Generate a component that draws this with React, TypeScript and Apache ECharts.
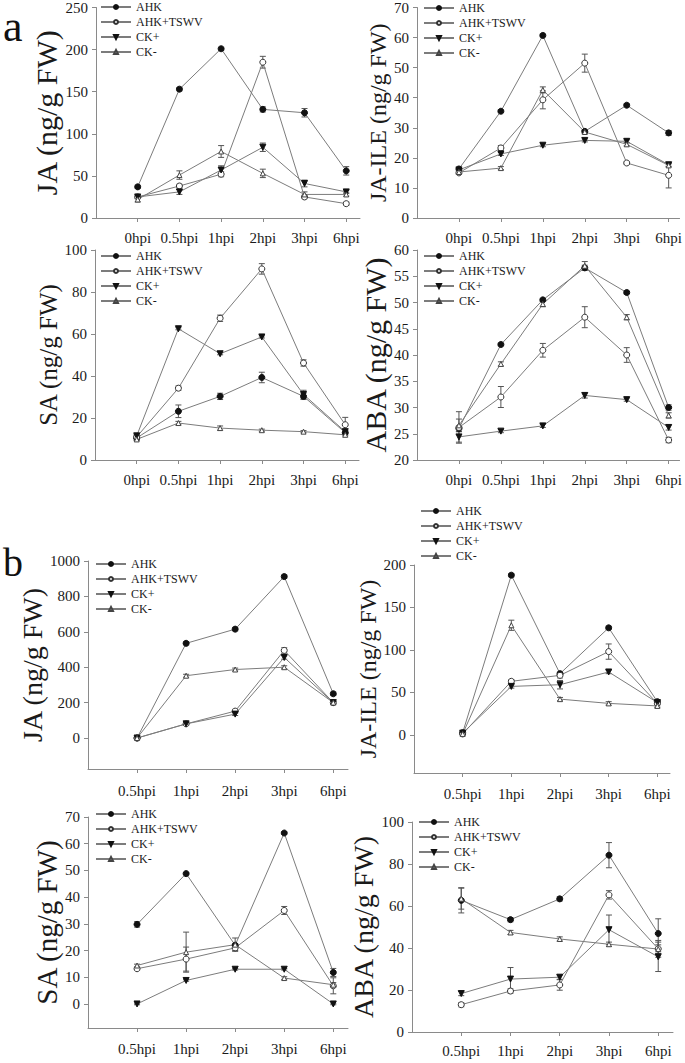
import React, { useEffect, useRef } from "react";
import * as echarts from "echarts";

const FONT = "Liberation Serif";

const catsA = ["0hpi", "0.5hpi", "1hpi", "2hpi", "3hpi", "6hpi"];
const catsB = ["0.5hpi", "1hpi", "2hpi", "3hpi", "6hpi"];
const seriesNames = ["AHK", "AHK+TSWV", "CK+", "CK-"];

// panel a — JA
const aJA_AHK = [37, 153, 201, 129, 125, 56];
const aJA_TSWV = [25, 38, 52, 185, 25, 17];
const aJA_CKp = [25, 31, 57, 84, 41, 31];
const aJA_CKm = [22, 51, 79, 53, 28, 28];
const aJA_errAHK = [2, 2, 2, 3, 5, 5];
const aJA_errTSWV = [2, 2, 3, 7, 2, 2];
const aJA_errCKp = [2, 3, 5, 5, 4, 2];
const aJA_errCKm = [3, 5, 7, 5, 3, 2];

// panel a — JA-ILE
const aJI_AHK = [16.3, 35.5, 60.7, 28.8, 37.5, 28.3];
const aJI_TSWV = [15, 23.3, 39.3, 51.5, 18.3, 14.2];
const aJI_CKp = [16, 21.3, 24.2, 25.8, 25.5, 17.7];
const aJI_CKm = [15.3, 16.6, 42.6, 28.6, 24.5, 17.5];
const aJI_errAHK = [0.5, 0.5, 0.5, 0.5, 0.5, 0.8];
const aJI_errTSWV = [0.5, 0.8, 3, 3, 0.5, 4.2];
const aJI_errCKp = [0.5, 0.5, 0.5, 0.5, 0.5, 0.5];
const aJI_errCKm = [0.5, 0.5, 1, 0.5, 0.5, 0.5];

// panel a — SA
const aSA_AHK = [10.5, 23.2, 30.3, 39.3, 30.3, 13];
const aSA_TSWV = [11, 34.2, 67.5, 91, 46.2, 16.8];
const aSA_CKp = [11.5, 62.5, 50.6, 58.6, 31.2, 13.5];
const aSA_CKm = [9.8, 17.6, 15.2, 14.2, 13.5, 12];
const aSA_errAHK = [1, 3, 1.5, 2.5, 1.5, 1];
const aSA_errTSWV = [1, 1, 1.5, 2.5, 1.5, 3.5];
const aSA_errCKp = [0.5, 0.5, 0.5, 0.5, 2, 0.5];
const aSA_errCKm = [0.5, 0.8, 1, 0.5, 0.5, 0.5];

// panel a — ABA
const aABA_AHK = [26, 42, 50.5, 56.6, 51.9, 30];
const aABA_TSWV = [26.2, 32, 40.9, 47.2, 40, 23.8];
const aABA_CKp = [24.4, 25.5, 26.5, 32.3, 31.5, 26.2];
const aABA_CKm = [26.6, 38.3, 49.7, 57, 47.2, 28.5];
const aABA_errAHK = [0.5, 0.3, 0.3, 0.5, 0.3, 0.5];
const aABA_errTSWV = [3, 2, 1.3, 2, 1.4, 0.5];
const aABA_errCKp = [1, 0.3, 0.3, 0.5, 0.3, 0.5];
const aABA_errCKm = [1.2, 0.4, 0.5, 0.8, 0.5, 0.5];

// panel b — JA
const bJA_AHK = [0, 535, 615, 912, 250];
const bJA_TSWV = [0, 80, 152, 495, 200];
const bJA_CKp = [0, 80, 135, 455, 200];
const bJA_CKm = [0, 352, 387, 400, 200];
const bJA_errAHK = [5, 10, 10, 10, 10];
const bJA_errTSWV = [5, 5, 10, 15, 8];
const bJA_errCKp = [5, 5, 8, 10, 8];
const bJA_errCKm = [5, 8, 8, 8, 8];

// panel b — JA-ILE
const bJI_AHK = [2.5, 188, 72, 126, 39];
const bJI_TSWV = [1, 63, 70, 98, 37];
const bJI_CKp = [2, 57, 59, 74, 38];
const bJI_CKm = [1, 129, 42, 37, 34];
const bJI_errAHK = [1, 2, 2, 2, 2];
const bJI_errTSWV = [1, 2, 3, 9, 3];
const bJI_errCKp = [1, 2, 5, 2, 2];
const bJI_errCKm = [1, 6, 2, 2, 2];

// panel b — SA
const bSA_AHK = [29.8, 48.8, 22, 64, 11.8];
const bSA_TSWV = [13.2, 16.8, 21, 35, 6.8];
const bSA_CKp = [0, 8.8, 13, 13, 0];
const bSA_CKm = [14.4, 19.4, 22.2, 9.7, 7.2];
const bSA_errAHK = [1, 0.5, 0.5, 0.5, 1.5];
const bSA_errTSWV = [0.5, 4.5, 1, 1.5, 3];
const bSA_errCKp = [0.3, 0.3, 0.3, 0.3, 0.3];
const bSA_errCKm = [0.5, 7.5, 2.5, 0.5, 0.8];

// panel b — ABA
const bABA_AHK = [62.7, 53.5, 63.4, 84.2, 46.9];
const bABA_TSWV = [13, 19.5, 22.4, 65.3, 39.6];
const bABA_CKp = [18.3, 25.2, 26.1, 48.7, 35.8];
const bABA_CKm = [63.5, 47.4, 44.3, 41.8, 39.5];
const bABA_errAHK = [6, 1, 1, 6, 7];
const bABA_errTSWV = [1, 1, 2.5, 2, 4];
const bABA_errCKp = [1, 5.5, 1, 7, 7];
const bABA_errCKm = [5, 1, 1, 1, 2];

// y-axis tick values
const ticksA_JA = [0, 50, 100, 150, 200, 250];
const ticksA_JI = [0, 10, 20, 30, 40, 50, 60, 70];
const ticksA_SA = [0, 20, 40, 60, 80, 100];
const ticksA_ABA = [20, 25, 30, 35, 40, 45, 50, 55, 60];
const ticksB_JA = [0, 200, 400, 600, 800, 1000];
const ticksB_JI = [0, 50, 100, 150, 200];
const ticksB_SA = [0, 10, 20, 30, 40, 50, 60, 70];
const ticksB_ABA = [0, 20, 40, 60, 80, 100];

const panels = [
  { name: "JA (ng/g FW)", cats: catsA, vals: [aJA_AHK, aJA_TSWV, aJA_CKp, aJA_CKm], errs: [aJA_errAHK, aJA_errTSWV, aJA_errCKp, aJA_errCKm], ticks: ticksA_JA, yMin: 0 },
  { name: "JA-ILE (ng/g FW)", cats: catsA, vals: [aJI_AHK, aJI_TSWV, aJI_CKp, aJI_CKm], errs: [aJI_errAHK, aJI_errTSWV, aJI_errCKp, aJI_errCKm], ticks: ticksA_JI, yMin: 0 },
  { name: "SA (ng/g FW)", cats: catsA, vals: [aSA_AHK, aSA_TSWV, aSA_CKp, aSA_CKm], errs: [aSA_errAHK, aSA_errTSWV, aSA_errCKp, aSA_errCKm], ticks: ticksA_SA, yMin: 0 },
  { name: "ABA (ng/g FW)", cats: catsA, vals: [aABA_AHK, aABA_TSWV, aABA_CKp, aABA_CKm], errs: [aABA_errAHK, aABA_errTSWV, aABA_errCKp, aABA_errCKm], ticks: ticksA_ABA, yMin: 20 },
  { name: "JA (ng/g FW)", cats: catsB, vals: [bJA_AHK, bJA_TSWV, bJA_CKp, bJA_CKm], errs: [bJA_errAHK, bJA_errTSWV, bJA_errCKp, bJA_errCKm], ticks: ticksB_JA, yMin: -175 },
  { name: "JA-ILE (ng/g FW)", cats: catsB, vals: [bJI_AHK, bJI_TSWV, bJI_CKp, bJI_CKm], errs: [bJI_errAHK, bJI_errTSWV, bJI_errCKp, bJI_errCKm], ticks: ticksB_JI, yMin: -45 },
  { name: "SA (ng/g FW)", cats: catsB, vals: [bSA_AHK, bSA_TSWV, bSA_CKp, bSA_CKm], errs: [bSA_errAHK, bSA_errTSWV, bSA_errCKp, bSA_errCKm], ticks: ticksB_SA, yMin: -9 },
  { name: "ABA (ng/g FW)", cats: catsB, vals: [bABA_AHK, bABA_TSWV, bABA_CKp, bABA_CKm], errs: [bABA_errAHK, bABA_errTSWV, bABA_errCKp, bABA_errCKm], ticks: ticksB_ABA, yMin: 0 },
];

// layout (pixels)
const layout = [
  { left: 96, top: 7, width: 264, height: 211, xMax: 6.33, nameGap: 34, nameSize: 30, lgLeft: 100, lgTop: 1, xMargin: 12 },
  { left: 417, top: 7, width: 263, height: 211, xMax: 6.26, nameGap: 24, nameSize: 24, lgLeft: 423, lgTop: 2, xMargin: 12 },
  { left: 95, top: 250, width: 264, height: 210, xMax: 6.33, nameGap: 28, nameSize: 25, lgLeft: 100, lgTop: 250, xMargin: 12 },
  { left: 417, top: 250, width: 263, height: 210, xMax: 6.26, nameGap: 24, nameSize: 30, lgLeft: 423, lgTop: 250, xMargin: 12 },
  { left: 88, top: 561, width: 260, height: 208, xMax: 5.3, nameGap: 41, nameSize: 28, lgLeft: 95, lgTop: 558, xMargin: 14 },
  { left: 414, top: 565, width: 256, height: 208, xMax: 5.26, nameGap: 30, nameSize: 24, lgLeft: 420, lgTop: 505, xMargin: 13 },
  { left: 88, top: 817, width: 260, height: 211, xMax: 5.3, nameGap: 25, nameSize: 29, lgLeft: 95, lgTop: 808, xMargin: 13 },
  { left: 412, top: 822, width: 261, height: 210, xMax: 5.3, nameGap: 24, nameSize: 28, lgLeft: 418, lgTop: 816, xMargin: 11 },
];

const markerStyles = [
  { symbol: "circle", symbolSize: 6, symbolRotate: 0, color: "#111", border: "#111" },
  { symbol: "circle", symbolSize: 6, symbolRotate: 0, color: "#fff", border: "#333" },
  { symbol: "triangle", symbolSize: 6, symbolRotate: 180, color: "#111", border: "#111" },
  { symbol: "triangle", symbolSize: 5, symbolRotate: 0, color: "#fff", border: "#444" },
];

const AXIS_COLOR = "#8a8a8a";
const LINE_COLOR = "#7c7c7c";

function buildOption() {
  const grid: any[] = [];
  const xAxis: any[] = [];
  const yAxis: any[] = [];
  const series: any[] = [];
  const legend: any[] = [];

  panels.forEach((p, i) => {
    const L = layout[i];
    grid.push({ left: L.left, top: L.top, width: L.width, height: L.height, containLabel: false });
    const xTicks = p.cats.map((_, k) => k + 1);
    xAxis.push({
      gridIndex: i,
      type: "value",
      min: 0,
      max: L.xMax,
      axisLine: { show: true, onZero: false, lineStyle: { color: AXIS_COLOR, width: 1 } },
      axisTick: { show: true, length: 4, customValues: xTicks, lineStyle: { color: AXIS_COLOR } },
      axisLabel: {
        customValues: xTicks,
        formatter: (v: number) => p.cats[Math.round(v) - 1] ?? "",
        fontFamily: FONT,
        fontSize: 15,
        color: "#1a1a1a",
        margin: L.xMargin,
      },
      splitLine: { show: false },
    });
    const yMax = p.ticks[p.ticks.length - 1];
    yAxis.push({
      gridIndex: i,
      type: "value",
      min: p.yMin,
      max: yMax,
      axisLine: { show: true, onZero: false, lineStyle: { color: AXIS_COLOR, width: 1 } },
      axisTick: { show: true, length: 4, customValues: p.ticks, lineStyle: { color: AXIS_COLOR } },
      axisLabel: {
        customValues: p.ticks,
        formatter: (v: number) => String(v),
        fontFamily: FONT,
        fontSize: 15,
        color: "#1a1a1a",
        margin: 8,
      },
      splitLine: { show: false },
      name: p.name,
      nameLocation: "middle",
      nameGap: L.nameGap,
      nameTextStyle: { fontFamily: FONT, fontSize: L.nameSize, color: "#1a1a1a" },
    });

    const errData: any[] = [];
    p.vals.forEach((vals, s) => {
      const m = markerStyles[s];
      series.push({
        name: seriesNames[s],
        type: "line",
        xAxisIndex: i,
        yAxisIndex: i,
        data: vals.map((v, k) => [k + 1, v]),
        symbol: m.symbol,
        symbolSize: m.symbolSize,
        symbolRotate: m.symbolRotate,
        showAllSymbol: true,
        lineStyle: { color: LINE_COLOR, width: 1 },
        itemStyle: { color: m.color, borderColor: m.border, borderWidth: 1 },
        z: 3,
        silent: true,
      });
      const errs = p.errs[s];
      vals.forEach((v, k) => {
        errData.push([k + 1, v - errs[k], v + errs[k]]);
      });
    });
    series.push({
      name: "err" + i,
      type: "custom",
      xAxisIndex: i,
      yAxisIndex: i,
      data: errData,
      encode: { x: 0, y: [1, 2] },
      z: 2,
      silent: true,
      renderItem: (_params: any, api: any) => {
        const x = api.value(0);
        const lo = api.value(1);
        const hi = api.value(2);
        const a = api.coord([x, hi]);
        const b = api.coord([x, lo]);
        const w = 3;
        const style = { stroke: "#555", lineWidth: 1 };
        return {
          type: "group",
          children: [
            { type: "line", shape: { x1: a[0], y1: a[1], x2: b[0], y2: b[1] }, style },
            { type: "line", shape: { x1: a[0] - w, y1: a[1], x2: a[0] + w, y2: a[1] }, style },
            { type: "line", shape: { x1: b[0] - w, y1: b[1], x2: b[0] + w, y2: b[1] }, style },
          ],
        };
      },
    });

    legend.push({
      orient: "vertical",
      left: L.lgLeft,
      top: L.lgTop,
      padding: 0,
      itemWidth: 30,
      itemHeight: 5,
      itemGap: 3,
      selectedMode: false,
      data: seriesNames,
      textStyle: { fontFamily: FONT, fontSize: 12, color: "#1a1a1a" },
    });
  });

  return {
    animation: false,
    backgroundColor: "#ffffff",
    grid,
    xAxis,
    yAxis,
    series,
    legend,
    graphic: [
      { type: "text", x: 3, y: 26, style: { text: "a", fontFamily: FONT, fontSize: 44, fill: "#111", textVerticalAlign: "middle" } },
      { type: "text", x: 3, y: 562, style: { text: "b", fontFamily: FONT, fontSize: 40, fill: "#111", textVerticalAlign: "middle" } },
    ],
  };
}

export default function App() {
  const ref = useRef<HTMLDivElement>(null);
  useEffect(() => {
    if (!ref.current) return;
    const chart = echarts.init(ref.current, undefined, { renderer: "svg" });
    chart.setOption(buildOption() as any);
    return () => chart.dispose();
  }, []);
  return (
    <div
      ref={ref}
      style={{ position: "absolute", left: 0, top: 0, width: 685, height: 1063, background: "#fff" }}
    />
  );
}
